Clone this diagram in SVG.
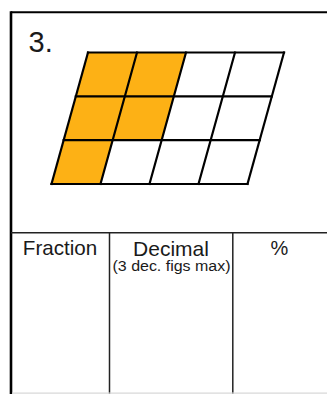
<svg xmlns="http://www.w3.org/2000/svg" width="327" height="394" viewBox="0 0 327 394">
  <style>
    .txt { font-family: "Liberation Sans", Arial, Helvetica, sans-serif; fill: #1a1a1a; }
    .grid { stroke: #000; stroke-width: 2.2; fill: none; stroke-linecap: square; }
    .cell { fill: #FDB115; stroke: none; }
    .tab { stroke: #222; stroke-width: 1.5; fill: none; }
  </style>
  <rect x="0" y="0" width="327" height="394" fill="#fff"/>
  <g id="frame">
    <line x1="11" y1="12.3" x2="327" y2="12.3" stroke="#000" stroke-width="2"/>
    <line x1="11" y1="11.3" x2="11" y2="394" stroke="#000" stroke-width="2.6"/>
    <line x1="11" y1="232.7" x2="327" y2="232.7" class="tab"/>
    <line x1="109.5" y1="232.7" x2="109.5" y2="394" class="tab"/>
    <line x1="232.8" y1="232.7" x2="232.8" y2="394" class="tab"/>
    <line x1="12" y1="393.2" x2="327" y2="393.2" stroke="#d8d8d8" stroke-width="1.2"/>
  </g>
  <text id="label-3" class="txt" x="28.5" y="52" font-size="29">3.</text>
  <g id="parallelogram">
    <polygon class="cell" points="88,52.5 186,52.5 161.67,140.17 112.67,140.17 100.5,184 51.5,184"/>
    <g class="grid">
      <line x1="88" y1="52.5" x2="284" y2="52.5"/>
      <line x1="75.83" y1="96.33" x2="271.83" y2="96.33"/>
      <line x1="63.67" y1="140.17" x2="259.67" y2="140.17"/>
      <line x1="51.5" y1="184" x2="247.5" y2="184"/>
      <line x1="88" y1="52.5" x2="51.5" y2="184"/>
      <line x1="137" y1="52.5" x2="100.5" y2="184"/>
      <line x1="186" y1="52.5" x2="149.5" y2="184"/>
      <line x1="235" y1="52.5" x2="198.5" y2="184"/>
      <line x1="284" y1="52.5" x2="247.5" y2="184"/>
    </g>
  </g>
  <g id="headers">
    <text class="txt" x="60" y="254.7" font-size="20.6" text-anchor="middle">Fraction</text>
    <text class="txt" x="171" y="255.5" font-size="21" text-anchor="middle">Decimal</text>
    <text class="txt" x="171.5" y="270.5" font-size="15.5" text-anchor="middle" textLength="118" lengthAdjust="spacingAndGlyphs">(3 dec. figs max)</text>
    <text class="txt" x="279.5" y="254.5" font-size="20" text-anchor="middle">%</text>
  </g>
</svg>
